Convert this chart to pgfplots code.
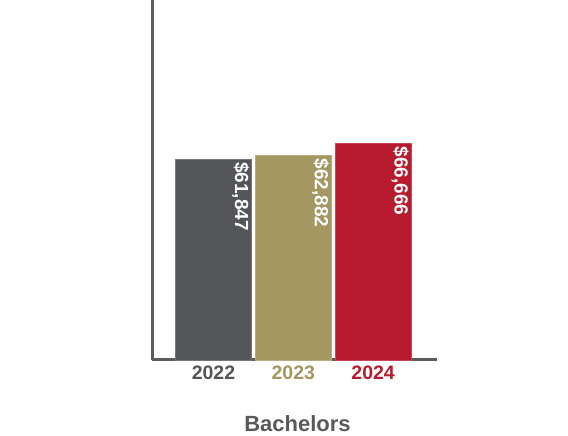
\documentclass[border=0pt]{standalone}
\usepackage{fontspec}
\setmainfont{Liberation Sans}
\usepackage{pgfplots}
\pgfplotsset{compat=1.18}

\definecolor{cgray}{HTML}{545559}
\definecolor{cgold}{HTML}{A59762}
\definecolor{cred}{HTML}{B81B2F}
\definecolor{axisgray}{HTML}{5B5C5F}
\definecolor{labelgray}{HTML}{58595B}

\begin{document}
\begin{tikzpicture}
\useasboundingbox (0,0) rectangle (568pt,436pt);
\begin{axis}[
    at={(152pt,76pt)},
    anchor=south west,
    scale only axis,
    width=285pt,
    height=360pt,
    xmin=-0.77, xmax=2.8,
    ymin=0, ymax=110700,
    axis x line=bottom,
    axis y line=left,
    axis line style={draw=axisgray, line width=3pt, -},
    ytick=\empty,
    xtick={0,1,2},
    xticklabels={\textcolor{cgray}{2022},\textcolor{cgold}{2023},\textcolor{cred}{2024}},
    major tick length=0pt,
    xticklabel style={font=\fontsize{19.5}{22}\selectfont\bfseries, anchor=base, yshift=-20pt},
    xlabel={Bachelors},
    xlabel style={at={(axis description cs:0.5,0)}, anchor=base, yshift=-72pt, xshift=3pt,
        font=\fontsize{22}{26}\selectfont\bfseries, text=labelgray},
    ybar,
    bar width=0.96,
    bar shift=0pt,
    /pgf/number format/assume math mode=true,
    nodes near coords={\$\pgfmathprintnumber[fixed,precision=0,1000 sep={,}]{\pgfplotspointmeta}},
    nodes near coords style={xshift=36pt, yshift=-3pt, rotate=-90, anchor=north west,
        inner sep=0pt, text=white, font=\fontsize{19}{22}\selectfont\bfseries},
    clip=false,
]
\addplot[fill=cgray, draw=cgray!80!white, line width=0.6pt] coordinates {(0,61847)};
\addplot[fill=cgold, draw=cgold!80!white, line width=0.6pt] coordinates {(1,62882)};
\addplot[fill=cred, draw=cred!80!white, line width=0.6pt] coordinates {(2,66666)};
\end{axis}
\end{tikzpicture}
\end{document}
